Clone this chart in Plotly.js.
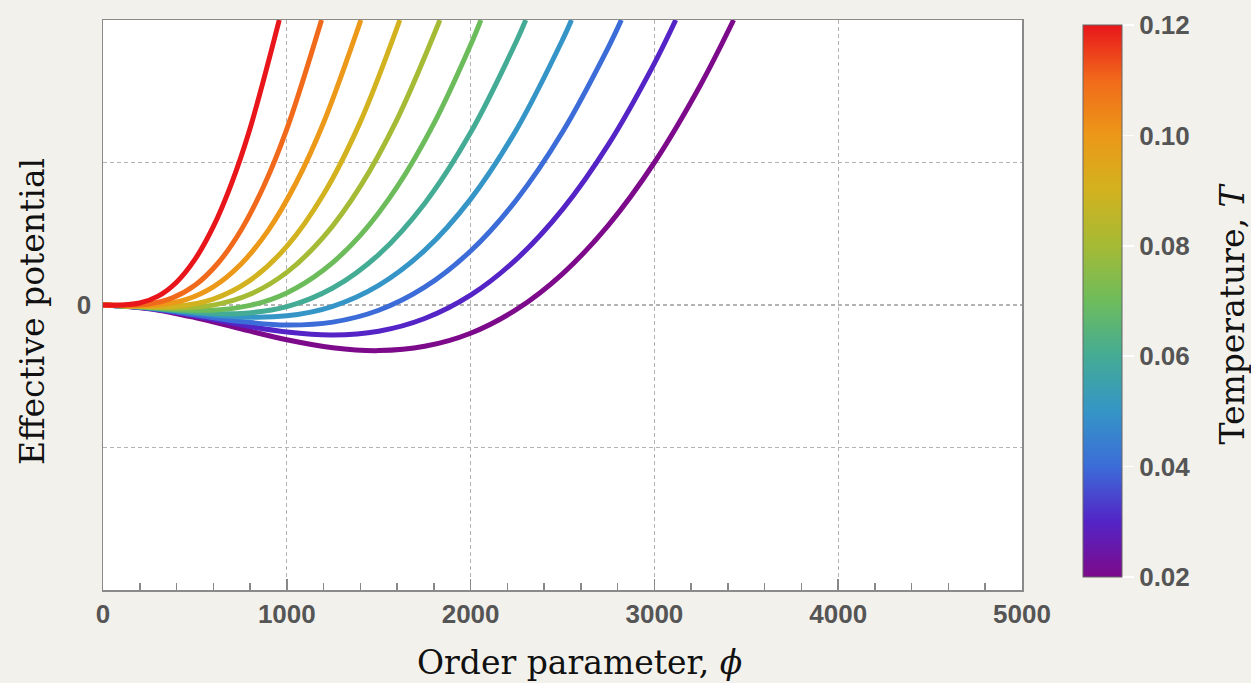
<!DOCTYPE html>
<html>
<head>
<meta charset="utf-8">
<script src="https://cdn.plot.ly/plotly-3.0.1.min.js"></script>
<style>
  html, body { margin: 0; padding: 0; background: #f3f1ec; }
  #chart { width: 1251px; height: 683px; }
</style>
</head>
<body>
<div id="chart"></div>
<script>
// Temperatures of the curves (colour scale values)
const temperatures = [0.02, 0.03, 0.04, 0.05, 0.06, 0.07, 0.08, 0.09, 0.10, 0.11, 0.12];
const curveColors = ['#7d0a8a', '#5424c6', '#3c6cd8', '#3595c6', '#44ab95', '#6dbc5c',
                     '#a5ba35', '#d2b21f', '#ec9818', '#f16a1b', '#e8161b'];

// Order parameter (phi) and effective potential read for each temperature
const phi002 = [0, 250, 500, 750, 1000, 1250, 1500, 1750, 2000, 2250, 2500, 2750, 3000, 3250, 3431];
const pot002 = [0, -0.026, -0.088, -0.167, -0.244, -0.300, -0.320, -0.290, -0.198, -0.031, 0.219, 0.561, 1.0, 1.542, 2.0];

const phi003 = [0, 250, 500, 750, 1000, 1250, 1500, 1750, 2000, 2250, 2500, 2750, 3000, 3116];
const pot003 = [0, -0.023, -0.077, -0.139, -0.190, -0.211, -0.184, -0.095, 0.069, 0.322, 0.671, 1.127, 1.696, 2.0];

const phi004 = [0, 250, 500, 750, 1000, 1250, 1500, 1750, 2000, 2250, 2500, 2750, 2820];
const pot004 = [0, -0.022, -0.069, -0.116, -0.140, -0.120, -0.037, 0.125, 0.379, 0.739, 1.214, 1.810, 2.0];

const phi005 = [0, 250, 500, 750, 1000, 1250, 1500, 1750, 2000, 2250, 2500, 2549];
const pot005 = [0, -0.019, -0.056, -0.084, -0.076, -0.009, 0.138, 0.383, 0.743, 1.232, 1.860, 2.0];

const phi006 = [0, 250, 500, 750, 1000, 1250, 1500, 1750, 2000, 2250, 2300];
const pot006 = [0, -0.019, -0.051, -0.059, -0.012, 0.119, 0.354, 0.713, 1.210, 1.853, 2.0];

const phi007 = [0, 200, 400, 600, 800, 1000, 1200, 1400, 1600, 1800, 2000, 2056];
const pot007 = [0, -0.012, -0.032, -0.036, -0.003, 0.085, 0.245, 0.489, 0.829, 1.273, 1.825, 2.0];

const phi008 = [0, 200, 400, 600, 800, 1000, 1200, 1400, 1600, 1833];
const pot008 = [0, -0.011, -0.021, -0.001, 0.075, 0.229, 0.478, 0.833, 1.303, 2.0];

const phi009 = [0, 200, 400, 600, 800, 1000, 1200, 1400, 1615];
const pot009 = [0, -0.009, -0.008, 0.042, 0.173, 0.411, 0.777, 1.285, 2.0];

const phi010 = [0, 150, 300, 450, 600, 750, 900, 1050, 1200, 1403];
const pot010 = [0, -0.005, 0.000, 0.037, 0.127, 0.286, 0.526, 0.856, 1.279, 2.0];

const phi011 = [0, 125, 250, 375, 500, 625, 750, 875, 1000, 1189];
const pot011 = [0, -0.002, 0.007, 0.048, 0.138, 0.293, 0.523, 0.835, 1.234, 2.0];

const phi012 = [0, 100, 200, 300, 400, 500, 600, 700, 800, 959];
const pot012 = [0, 0.000, 0.014, 0.062, 0.160, 0.320, 0.550, 0.856, 1.239, 2.0];

const phiSeries = [phi002, phi003, phi004, phi005, phi006, phi007, phi008, phi009, phi010, phi011, phi012];
const potSeries = [pot002, pot003, pot004, pot005, pot006, pot007, pot008, pot009, pot010, pot011, pot012];

// Axis tick labels
const xTickVals = [0, 1000, 2000, 3000, 4000, 5000];
const xTickText = ['0', '1000', '2000', '3000', '4000', '5000'];
const yTickVals = [-1, 0, 1];
const yTickText = ['', '0', ''];
const cbTickVals = [0.02, 0.04, 0.06, 0.08, 0.10, 0.12];
const cbTickText = ['0.02', '0.04', '0.06', '0.08', '0.10', '0.12'];

// Titles
const xTitle = 'Order parameter, <i>ϕ</i>';
const yTitle = 'Effective potential';
const cbTitle = 'Temperature, <i>T</i>';

const tMin = temperatures[0], tMax = temperatures[temperatures.length - 1];
const colorscale = temperatures.map((t, i) => [(t - tMin) / (tMax - tMin), curveColors[i]]);

const tickFont = { family: 'Liberation Sans, Arial, sans-serif', size: 26, color: '#555', weight: 'bold' };
const titleFont = { family: 'DejaVu Serif, serif', size: 33, color: '#111' };

const traces = temperatures.map((t, i) => ({
  type: 'scatter',
  mode: 'lines',
  x: phiSeries[i],
  y: potSeries[i],
  line: { color: curveColors[i], width: 5, shape: 'spline', smoothing: 1 },
  hoverinfo: 'skip',
  showlegend: false
}));

// Invisible markers that carry the colour bar
traces.push({
  type: 'scatter',
  mode: 'markers',
  x: phi002,
  y: pot002,
  hoverinfo: 'skip',
  showlegend: false,
  marker: {
    size: 0.1,
    opacity: 0,
    color: phi002.map(() => tMin),
    cmin: tMin,
    cmax: tMax,
    colorscale: colorscale,
    showscale: true,
    colorbar: {
      x: 1.0664, xanchor: 'left', xref: 'paper', xpad: 0,
      y: 0.507, yanchor: 'middle', ypad: 0,
      len: 0.9684, lenmode: 'fraction',
      thickness: 39, thicknessmode: 'pixels',
      outlinecolor: '#666', outlinewidth: 1,
      tickvals: cbTickVals, ticktext: cbTickText,
      ticks: 'outside', ticklen: 12, tickcolor: '#ffffff', tickwidth: 1.5,
      tickfont: tickFont
    }
  }
});

const gridStyle = { showgrid: true, gridcolor: '#b3b3b3', gridwidth: 1.2, griddash: '4px,3px' };

const layout = {
  width: 1251, height: 683,
  paper_bgcolor: '#f3f1ec',
  plot_bgcolor: '#ffffff',
  margin: { l: 103, r: 229, t: 20, b: 93 },
  showlegend: false,
  xaxis: Object.assign({
    range: [0, 5000],
    tickvals: xTickVals, ticktext: xTickText,
    ticks: 'inside', ticklen: 11, tickcolor: '#888', tickwidth: 1.5,
    minor: { dtick: 200, ticks: 'inside', ticklen: 7, tickcolor: '#888', tickwidth: 1.5, showgrid: false },
    zeroline: false,
    showline: true, linecolor: '#8a8a8a', linewidth: 1.5, mirror: true,
    tickfont: tickFont,
    ticklabelstandoff: 0,
    fixedrange: true
  }, gridStyle),
  yaxis: Object.assign({
    range: [-2, 2],
    tickvals: yTickVals, ticktext: yTickText,
    ticks: '',
    zeroline: false,
    showline: true, linecolor: '#8a8a8a', linewidth: 1.5, mirror: true,
    tickfont: tickFont,
    ticklabelstandoff: 5,
    fixedrange: true
  }, gridStyle),
  annotations: [
    { text: xTitle, xref: 'paper', yref: 'paper', x: 0.519, y: -0.128, xanchor: 'center', yanchor: 'middle',
      showarrow: false, font: titleFont },
    { text: yTitle, xref: 'paper', yref: 'paper', x: -0.0762, y: 0.4895, xanchor: 'center', yanchor: 'middle',
      textangle: -90, showarrow: false, font: titleFont },
    { text: cbTitle, xref: 'paper', yref: 'paper', x: 1.2296, y: 0.485, xanchor: 'center', yanchor: 'middle',
      textangle: -90, showarrow: false, font: titleFont }
  ]
};

Plotly.newPlot('chart', traces, layout, { displayModeBar: false, staticPlot: true });
</script>
</body>
</html>
